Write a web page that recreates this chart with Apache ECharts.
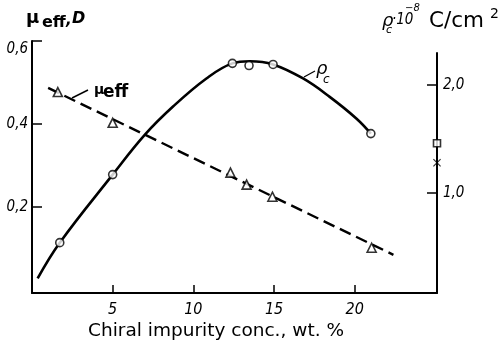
<!DOCTYPE html>
<html>
<head>
<meta charset="utf-8">
<script src="https://cdn.jsdelivr.net/npm/echarts@6/dist/echarts.min.js"></script>
<style>html,body{margin:0;padding:0;background:#fff}#c{width:504px;height:347px}</style>
</head>
<body>
<div id="c"></div>
<script>
// ---- data ----
const xTicks = [5, 10, 15, 20];
const muTicks = [0.2, 0.4, 0.6];
const rhoTicks = [1.0, 2.0];

// rho_c (right axis): measured points (circles)
const rhoPointsX = [1.72, 5.0, 12.42, 13.45, 14.94, 21.0];
const rhoPointsY = [0.54, 1.17, 2.20, 2.18, 2.19, 1.55];
// rho_c fitted curve
const rhoCurveX = [0.35, 1.72, 5.0, 7.0, 8.74, 10.81, 12.42, 13.5, 14.94, 16.8, 18.45, 20.1, 21.0];
const rhoCurveY = [0.21, 0.54, 1.17, 1.54, 1.80, 2.06, 2.20, 2.22, 2.19, 2.06, 1.89, 1.69, 1.55];

// mu_eff (left axis): measured points (triangles)
const muPointsX = [1.6, 5.0, 12.3, 13.3, 14.9, 21.05];
const muPointsY = [0.477, 0.403, 0.283, 0.254, 0.225, 0.102];
// mu_eff dashed fit line ends
const muLineX = [1.0, 22.4];
const muLineY = [0.487, 0.085];

// markers on right axis
const squareMark = [25.1, 1.46];
const crossMark = [25.1, 1.28];

const zip = (a, b) => a.map((v, i) => [v, b[i]]);
const fmt = v => String(v.toFixed(1)).replace('.', ',');

const tickFont = '"DejaVu Sans Condensed", "Liberation Sans Narrow", "DejaVu Sans", sans-serif';
const chart = echarts.init(document.getElementById('c'), null, {renderer: 'canvas'});
const G = {left: 32, right: 67, bottom: 54};
const axisLine = {show: true, onZero: false, lineStyle: {color: '#000', width: 2}};

chart.setOption({
  animation: false,
  grid: [
    Object.assign({top: 41}, G),
    Object.assign({top: 53}, G)
  ],
  xAxis: [
    {
      type: 'value', gridIndex: 0, min: 0, max: 25.1,
      axisLine: axisLine, splitLine: {show: false},
      axisTick: {show: true, inside: true, length: 8, lineStyle: {color: '#000', width: 1.5}, customValues: xTicks},
      axisLabel: {customValues: xTicks, color: '#000', fontFamily: tickFont, fontStyle: 'italic', fontSize: 16, margin: 9}
    },
    {
      type: 'value', gridIndex: 1, min: 0, max: 25.1, show: false,
      axisLine: {onZero: false}
    }
  ],
  yAxis: [
    {
      type: 'value', gridIndex: 0, min: -0.007, max: 0.6, position: 'left',
      axisLine: axisLine, splitLine: {show: false},
      axisTick: {show: true, inside: true, length: 10, lineStyle: {color: '#000', width: 1.5}, customValues: muTicks},
      axisLabel: {
        customValues: muTicks, color: '#000', fontFamily: tickFont, fontStyle: 'italic', fontSize: 15, margin: 4,
        formatter: v => v > 0.55 ? '{t|' + fmt(v) + '}' : fmt(v),
        rich: {t: {padding: [16, 0, 0, 0], fontFamily: tickFont, fontStyle: 'italic', fontSize: 15, color: '#000'}}
      }
    },
    {
      type: 'value', gridIndex: 1, min: 0.074, max: 2.296, position: 'right',
      axisLine: axisLine, splitLine: {show: false},
      axisTick: {show: true, inside: true, length: 10, lineStyle: {color: '#000', width: 1.5}, customValues: rhoTicks},
      axisLabel: {customValues: rhoTicks, color: '#000', fontFamily: tickFont, fontStyle: 'italic', fontSize: 15, margin: 6, formatter: fmt}
    }
  ],
  series: [
    {
      type: 'line', xAxisIndex: 1, yAxisIndex: 1, data: zip(rhoCurveX, rhoCurveY),
      smooth: 0.4, showSymbol: false, lineStyle: {color: '#000', width: 2.6}, z: 2
    },
    {
      type: 'scatter', xAxisIndex: 1, yAxisIndex: 1, data: zip(rhoPointsX, rhoPointsY),
      symbol: 'circle', symbolSize: 8,
      itemStyle: {color: '#fff', borderColor: '#000', borderWidth: 1.6}, z: 5
    },
    {
      type: 'line', xAxisIndex: 0, yAxisIndex: 0, data: zip(muLineX, muLineY),
      showSymbol: false, lineStyle: {color: '#000', width: 2.4, type: [12, 6]}, z: 2
    },
    {
      type: 'scatter', xAxisIndex: 0, yAxisIndex: 0, data: zip(muPointsX, muPointsY),
      symbol: 'triangle', symbolSize: 9,
      itemStyle: {color: '#fff', borderColor: '#000', borderWidth: 1.6}, z: 5
    },
    {
      type: 'scatter', xAxisIndex: 1, yAxisIndex: 1, data: [squareMark],
      symbol: 'rect', symbolSize: 7,
      itemStyle: {color: '#fff', borderColor: '#000', borderWidth: 1.6}, z: 6
    },
    {
      type: 'scatter', xAxisIndex: 1, yAxisIndex: 1, data: [crossMark],
      symbol: 'path://M0,1L1,0L5,4L9,0L10,1L6,5L10,9L9,10L5,6L1,10L0,9L4,5Z', symbolSize: 8,
      itemStyle: {color: '#000'}, z: 6
    }
  ],
  graphic: [
    // left axis title: mu_eff, D
    {type: 'text', x: 26, y: 18, style: {text: 'μ', font: 'bold 18px "DejaVu Sans"', fill: '#000', textVerticalAlign: 'middle'}},
    {type: 'text', x: 42, y: 23, style: {text: 'eff', font: 'bold 16px "DejaVu Sans"', fill: '#000', textVerticalAlign: 'middle'}},
    {type: 'text', x: 66, y: 21, style: {text: ',', font: 'bold italic 15px "DejaVu Sans"', fill: '#000', textVerticalAlign: 'middle'}},
    {type: 'text', x: 72, y: 19, style: {text: 'D', font: 'bold italic 16px "DejaVu Sans"', fill: '#000', textVerticalAlign: 'middle'}},
    // right axis title
    {type: 'text', x: 382, y: 21, style: {text: 'ρ', font: 'italic 18px "DejaVu Sans"', fill: '#000', textVerticalAlign: 'middle'}},
    {type: 'text', x: 386, y: 30, style: {text: 'c', font: 'italic 11px "DejaVu Sans"', fill: '#000', textVerticalAlign: 'middle'}},
    {type: 'text', x: 392, y: 20, style: {text: '·10', font: 'italic 15px "DejaVu Sans Condensed", "DejaVu Sans"', fill: '#000', textVerticalAlign: 'middle'}},
    {type: 'text', x: 405, y: 8, style: {text: '−8', font: 'italic 10px "DejaVu Sans"', fill: '#000', textVerticalAlign: 'middle'}},
    {type: 'text', x: 429, y: 21, style: {text: 'C/cm', font: '21.5px "DejaVu Sans"', fill: '#000', textVerticalAlign: 'middle'}},
    {type: 'text', x: 490, y: 14, style: {text: '2', font: '14px "DejaVu Sans"', fill: '#000', textVerticalAlign: 'middle'}},
    // x axis title
    {type: 'text', x: 216, y: 331, style: {text: 'Chiral impurity conc., wt. %', font: '18.5px "DejaVu Sans"', fill: '#000', textAlign: 'center', textVerticalAlign: 'middle'}},
    // curve labels
    {type: 'line', shape: {x1: 72, y1: 98, x2: 88, y2: 90}, style: {stroke: '#000', lineWidth: 1.5}},
    {type: 'text', x: 94, y: 90, style: {text: 'μ', font: 'bold 14px "DejaVu Sans"', fill: '#000', textVerticalAlign: 'middle'}},
    {type: 'text', x: 103, y: 93, style: {text: 'eff', font: 'bold 17px "DejaVu Sans"', fill: '#000', textVerticalAlign: 'middle'}},
    {type: 'line', shape: {x1: 304, y1: 77, x2: 315, y2: 71}, style: {stroke: '#000', lineWidth: 1.2}},
    {type: 'text', x: 316, y: 69, style: {text: 'ρ', font: 'italic 18px "DejaVu Sans"', fill: '#000', textVerticalAlign: 'middle'}},
    {type: 'text', x: 323, y: 80, style: {text: 'c', font: 'italic 12px "DejaVu Sans"', fill: '#000', textVerticalAlign: 'middle'}}
  ]
});
</script>
</body>
</html>
